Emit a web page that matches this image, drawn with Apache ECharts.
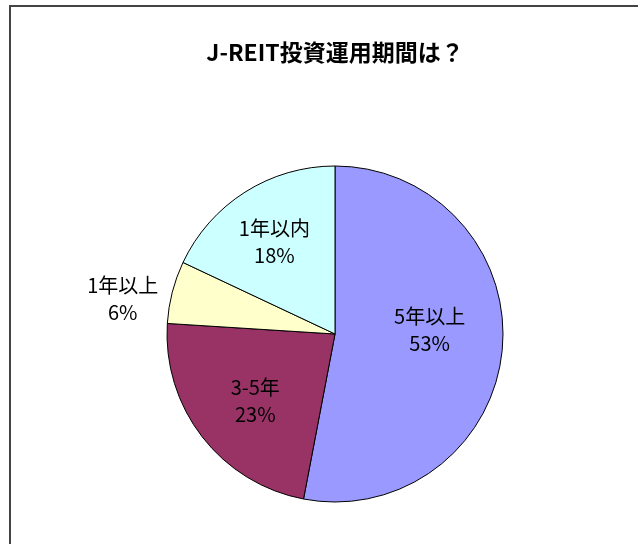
<!DOCTYPE html>
<html>
<head>
<meta charset="utf-8">
<script src="https://cdn.jsdelivr.net/npm/echarts@6/dist/echarts.min.js"></script>
<style>
  html, body { margin: 0; padding: 0; background: #ffffff; }
  #chart { width: 638px; height: 544px; }
</style>
</head>
<body>
<div id="chart"></div>
<script>
// Investment holding periods for J-REIT (share of respondents, %)
const chartTitle = 'J-REIT投資運用期間は？';
const categories = ['5年以上', '3-5年', '1年以上', '1年以内'];
const shares = [53, 23, 6, 18];
const sliceColors = ['#9999FF', '#993366', '#FFFFCC', '#CCFFFF'];
// nudges of each label from its default in-slice spot
const labelNudges = [[8, -12], [-11, 14], [-128, -13], [-14, -19]];

const font = '"Noto Sans CJK JP", "Noto Sans", sans-serif';

const chart = echarts.init(document.getElementById('chart'), null, { renderer: 'canvas' });

chart.setOption({
  backgroundColor: '#ffffff',
  animation: false,
  title: {
    text: chartTitle,
    left: 330,
    top: 36,
    textAlign: 'center',
    textStyle: { fontFamily: font, fontSize: 23, fontWeight: 'bold', color: '#000000' }
  },
  graphic: [{
    type: 'rect',
    shape: { x: 10, y: 6, width: 700, height: 600 },
    style: { fill: 'none', stroke: '#444444', lineWidth: 2 },
    silent: true
  }],
  series: [{
    type: 'pie',
    center: [335, 334],
    radius: 168,
    startAngle: 90,
    clockwise: true,
    avoidLabelOverlap: false,
    itemStyle: { borderColor: '#000000', borderWidth: 1 },
    label: {
      show: true,
      position: 'inside',
      formatter: p => p.name + '\n' + p.value + '%',
      fontFamily: font,
      fontSize: 20,
      lineHeight: 27,
      color: '#000000',
      align: 'center'
    },
    labelLine: { show: false },
    labelLayout: p => ({ dx: labelNudges[p.dataIndex][0], dy: labelNudges[p.dataIndex][1] }),
    emphasis: { disabled: true },
    data: categories.map((name, i) => ({
      name: name,
      value: shares[i],
      itemStyle: { color: sliceColors[i] }
    }))
  }]
});
</script>
</body>
</html>
